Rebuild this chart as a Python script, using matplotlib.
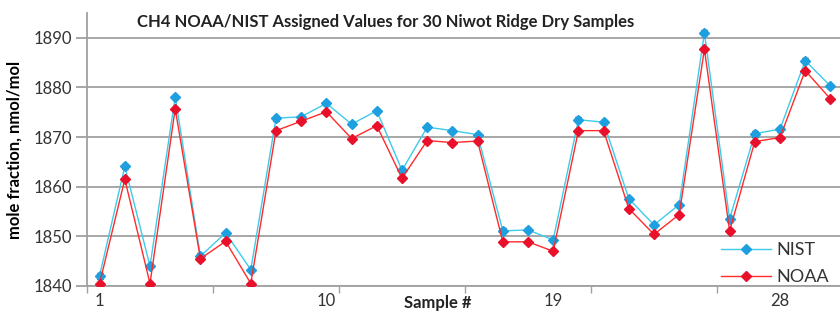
import matplotlib.pyplot as plt
from matplotlib.lines import Line2D
import numpy as np

plt.rcParams['font.family'] = ['Lato', 'DejaVu Sans']

samples = np.arange(1, 31)
nist = [1842.1, 1864.1, 1844.0, 1878.1, 1846.0, 1850.7, 1843.3, 1873.8, 1874.1, 1876.8,
        1872.6, 1875.3, 1863.3, 1872.0, 1871.3, 1870.5, 1851.1, 1851.3, 1849.3, 1873.5,
        1873.0, 1857.6, 1852.3, 1856.4, 1891.0, 1853.5, 1870.7, 1871.6, 1885.4, 1880.3]
noaa = [1840.5, 1861.5, 1840.5, 1875.7, 1845.5, 1849.0, 1840.5, 1871.3, 1873.2, 1875.1,
        1869.7, 1872.3, 1861.7, 1869.3, 1868.9, 1869.2, 1848.9, 1848.9, 1847.0, 1871.3,
        1871.3, 1855.6, 1850.4, 1854.4, 1887.7, 1851.1, 1869.1, 1869.9, 1883.4, 1877.7]
nist_unc = [0.6, 0.5, 0.4, 0.4, 0.6, 0.4, 0.4, 0.5, 0.4, 0.4,
            0.4, 0.4, 0.5, 0.4, 0.4, 0.4, 0.5, 0.4, 0.4, 0.5,
            0.4, 0.4, 0.4, 0.4, 0.5, 0.7, 0.6, 0.5, 0.5, 0.4]
noaa_unc = [0.4] * 30
tick_labels = ['1', '10', '19', '28']
label_pos = [1, 10, 19, 28]

nist_line = '#3DCBEA'
nist_mark = '#1E9FE0'
noaa_line = '#FF2A2A'
noaa_mark = '#E8102A'

fig = plt.figure(figsize=(8.4, 3.18), dpi=100)
ax = fig.add_axes([87 / 840, 32 / 318, 756 / 840, 273 / 318])

ax.errorbar(samples, nist, yerr=nist_unc, color=nist_line, lw=1.0, marker='D', markersize=5,
            markerfacecolor=nist_mark, markeredgecolor=nist_mark, ecolor='black',
            elinewidth=0.8, capsize=2, zorder=3)
ax.errorbar(samples, noaa, yerr=noaa_unc, color=noaa_line, lw=1.0, marker='D', markersize=5,
            markerfacecolor=noaa_mark, markeredgecolor=noaa_mark, ecolor='black',
            elinewidth=0.8, capsize=2, zorder=3)

ax.set_xlim(0.5, 30.5)
ax.set_ylim(1840, 1895)
ax.set_yticks(np.arange(1840, 1891, 10))
ax.yaxis.grid(True, color='#A0A0A0', lw=1.3)
ax.set_axisbelow(True)

ax.set_xticks(np.arange(0.5, 31, 5))
ax.set_xticklabels([])
ax.set_xticks(label_pos, minor=True)
ax.set_xticklabels(tick_labels, minor=True)
ax.tick_params(axis='x', which='major', length=5, color='#A0A0A0', width=1)
ax.tick_params(axis='x', which='minor', length=0, labelsize=12, pad=5, colors='#333333')
ax.tick_params(axis='y', length=8, color='#A0A0A0', width=1.3, labelsize=12, pad=3,
               labelcolor='#333333')

for side in ['top', 'right']:
    ax.spines[side].set_visible(False)
for side in ['left', 'bottom']:
    ax.spines[side].set_color('#A0A0A0')
    ax.spines[side].set_linewidth(1.3)

ax.set_ylabel('mole fraction, nmol/mol', fontsize=12, fontweight='bold', labelpad=8)
fig.text(438 / 840, 1 - 303 / 318, 'Sample #', fontsize=12, fontweight='bold',
         ha='center', va='center', color='#222222')
fig.text(386 / 840, 1 - 22 / 318, 'CH4 NOAA/NIST Assigned Values for 30 Niwot Ridge Dry Samples',
         fontsize=12, fontweight='bold', ha='center', va='center', color='#222222')

handles = [Line2D([], [], color=nist_line, lw=1.0, marker='D', markersize=5,
                  markerfacecolor=nist_mark, markeredgecolor=nist_mark),
           Line2D([], [], color=noaa_line, lw=1.0, marker='D', markersize=5,
                  markerfacecolor=noaa_mark, markeredgecolor=noaa_mark)]
leg = ax.legend(handles, ['NIST', 'NOAA'], loc='lower right',
                bbox_to_anchor=(838 / 840, 24 / 318), bbox_transform=fig.transFigure,
                frameon=False, fontsize=13, handlelength=2.8, handletextpad=0.3,
                labelspacing=0.6, borderpad=0)
for t in leg.get_texts():
    t.set_color('#333333')

fig.savefig('out.png', dpi=100)
